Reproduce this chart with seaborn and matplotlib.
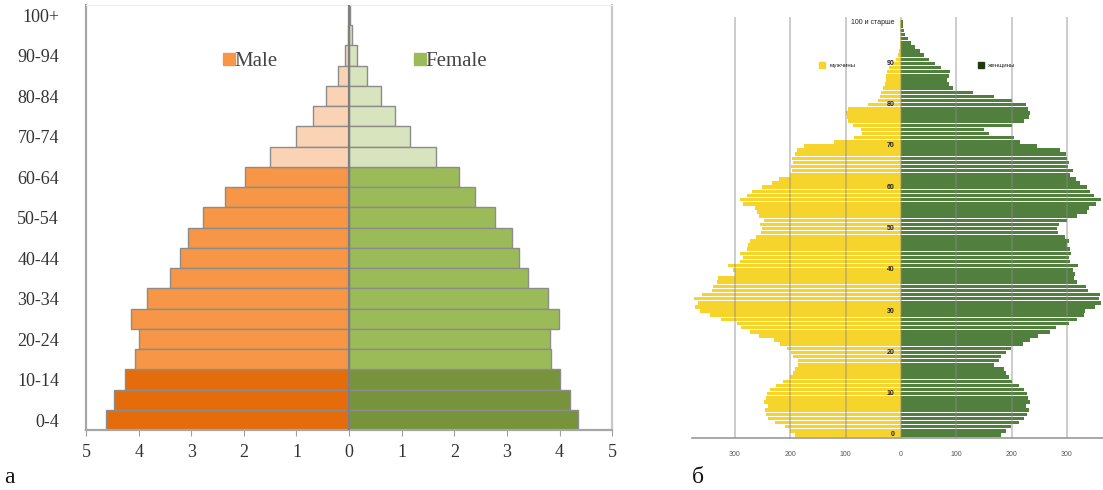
import numpy as np
import pandas as pd
import matplotlib
matplotlib.use("Agg")
import matplotlib.pyplot as plt
from matplotlib.ticker import FuncFormatter
from matplotlib.lines import Line2D
import seaborn as sns

# --- panel a: five-year age groups, % of population ---
age_groups = ['0-4', '5-9', '10-14', '15-19', '20-24', '25-29', '30-34', '35-39',
              '40-44', '45-49', '50-54', '55-59', '60-64', '65-69', '70-74', '75-79',
              '80-84', '85-89', '90-94', '95-99', '100+']
male_pct = [4.63, 4.47, 4.25, 4.06, 4.0, 4.14, 3.85, 3.41, 3.22, 3.07, 2.77, 2.35,
            1.97, 1.51, 1.0, 0.69, 0.44, 0.21, 0.08, 0.03, 0.01]
female_pct = [4.35, 4.2, 4.0, 3.84, 3.82, 3.99, 3.78, 3.4, 3.22, 3.09, 2.78, 2.4,
              2.08, 1.66, 1.16, 0.87, 0.6, 0.34, 0.15, 0.05, 0.02]
# broad age band of each group: young / working / old
band = ['young'] * 3 + ['work'] * 10 + ['old'] * 8

# --- panel б: single years of age, thousands ---
ages = list(range(101))
men = [192, 200, 210, 228, 240, 244, 246, 240, 248, 244,
       242, 236, 225, 212, 200, 194, 192, 186, 186, 194,
       198, 206, 218, 230, 256, 272, 288, 296, 324, 345,
       362, 372, 366, 374, 360, 342, 340, 332, 330, 300,
       304, 312, 290, 286, 290, 278, 276, 272, 262, 252,
       250, 254, 248, 256, 260, 264, 285, 290, 278, 268,
       250, 232, 220, 200, 196, 198, 194, 196, 192, 188,
       175, 120, 85, 70, 72, 86, 95, 98, 100, 96,
       60, 42, 38, 36, 32, 28, 27, 26, 25, 22,
       14, 8, 5, 3, 2, 2, 1, 1, 1, 1, 1]
women = [180, 190, 198, 214, 222, 228, 232, 226, 234, 230,
         228, 222, 214, 200, 196, 190, 186, 168, 178, 180,
         190, 198, 220, 234, 248, 270, 280, 304, 318, 330,
         332, 350, 362, 358, 360, 338, 334, 318, 312, 314,
         310, 320, 306, 304, 308, 306, 300, 304, 296, 284,
         282, 286, 300, 318, 336, 340, 352, 362, 348, 342,
         336, 324, 316, 305, 310, 302, 304, 300, 298, 288,
         246, 215, 204, 160, 150, 200, 222, 232, 234, 230,
         226, 200, 168, 130, 95, 86, 84, 86, 88, 72,
         62, 50, 42, 34, 26, 18, 12, 8, 5, 3, 3]
age_marks = [0, 10, 20, 30, 40, 50, 60, 70, 80, 90]

shade_colors = {
    'Male young': '#E46C0A', 'Male work': '#F79646', 'Male old': '#FAD3B4',
    'Female young': '#77933C', 'Female work': '#9BBB59', 'Female old': '#D7E4BD',
}

sns.set_style("white")
plt.rcParams['font.family'] = ['Liberation Serif', 'DejaVu Serif']

fig = plt.figure(figsize=(11.03, 4.9), dpi=100)
ax1 = fig.add_axes([0.078, 0.122, 0.477, 0.868])
ax2 = fig.add_axes([0.627, 0.106, 0.373, 0.859])

# ---------------- panel a ----------------
df_a = pd.DataFrame({
    'group': age_groups * 2,
    'value': [-v for v in male_pct] + female_pct,
    'shade': ['Male ' + b for b in band] + ['Female ' + b for b in band],
})
order_a = age_groups[::-1]
sns.barplot(data=df_a, x='value', y='group', hue='shade', palette=shade_colors,
            order=order_a, dodge=False, orient='h', width=1.0, saturation=1,
            edgecolor='#8c8c8c', linewidth=1.0, legend=False, ax=ax1)
ax1.set_xlim(-5, 5)
ax1.set_ylim(len(age_groups) - 0.5, -0.5)
ax1.axvline(0, color='#7f7f7f', lw=1.6, zorder=5)
ax1.set_xticks(range(-5, 6))
ax1.xaxis.set_major_formatter(FuncFormatter(lambda v, p: f'{abs(v):.0f}'))
ax1.set_yticks(range(len(order_a)))
ax1.set_yticklabels([g if i % 2 == 0 else '' for i, g in
                     zip(range(len(order_a) - 1, -1, -1), order_a)])
ax1.tick_params(axis='x', bottom=True, length=4, color='#a0a0a0',
                labelsize=13, pad=6, labelcolor='#333333')
ax1.tick_params(axis='y', left=False, labelsize=13, pad=16, labelcolor='#333333')
ax1.set_xlabel('')
ax1.set_ylabel('')
for side in ['left', 'bottom']:
    ax1.spines[side].set_color('#a6a6a6')
    ax1.spines[side].set_linewidth(1.6)
ax1.spines['right'].set_color('#c8c8c8')
ax1.spines['right'].set_linewidth(1.6)
ax1.spines['top'].set_color('#ececec')

handles_a = [Line2D([], [], marker='s', ls='', markersize=8, color='#F79646', label='Male'),
             Line2D([], [], marker='s', ls='', markersize=8, color='#9BBB59', label='Female')]
ax1.legend(handles=handles_a, loc='upper center', bbox_to_anchor=(0.505, 0.935), ncol=2,
           frameon=False, fontsize=15, handletextpad=-0.3, columnspacing=6.2,
           handlelength=1.2, labelcolor='#444444')

# ---------------- panel б ----------------
df_b = pd.DataFrame({
    'age': ages * 2,
    'value': [-v for v in men] + women,
    'sex': ['мужчины'] * len(ages) + ['женщины'] * len(ages),
})
sns.barplot(data=df_b, x='value', y='age', hue='sex',
            palette={'мужчины': '#F6D42B', 'женщины': '#507F3E'},
            dodge=False, orient='h', native_scale=True, width=0.85, saturation=1,
            edgecolor='none', legend=False, ax=ax2)
ax2.set_xlim(-378, 365)
ax2.set_ylim(-0.75, 101.2)
ax2.set_axisbelow(False)
ax2.grid(axis='x', color='#8a8a8a', lw=1.1, alpha=0.55)
ax2.set_xticks([-300, -200, -100, 0, 100, 200, 300])
ax2.xaxis.set_major_formatter(FuncFormatter(lambda v, p: f'{abs(v):.0f}'))
ax2.set_yticks([])
ax2.tick_params(axis='x', bottom=False, labelsize=5, pad=6, labelcolor='#555555',
                labelfontfamily='Liberation Sans')
ax2.set_xlabel('')
ax2.set_ylabel('')
for side in ['left', 'right', 'top']:
    ax2.spines[side].set_visible(False)
ax2.spines['bottom'].set_color('#9a9a9a')
ax2.spines['bottom'].set_linewidth(1.2)

for a in age_marks:
    ax2.text(-12, a, str(a), ha='right', va='center', fontsize=5,
             fontweight='bold', color='#222222', family='Liberation Sans')
ax2.text(-12, 100, '100 и старше', ha='right', va='center', fontsize=5,
         color='#222222', family='Liberation Sans')

handles_b = [Line2D([], [], marker='s', ls='', markersize=4, color='#F6D42B', label='мужчины'),
             Line2D([], [], marker='s', ls='', markersize=4, color='#1f3a12', label='женщины')]
ax2.legend(handles=handles_b, loc='upper center', bbox_to_anchor=(0.545, 0.905), ncol=2,
           frameon=False, handletextpad=0.2, columnspacing=19,
           prop={'family': 'Liberation Sans', 'size': 4.5})

fig.text(0.004, 0.015, 'а', fontsize=17, color='#111111')
fig.text(0.627, 0.015, 'б', fontsize=17, color='#111111')

fig.savefig('out.png', dpi=100)
